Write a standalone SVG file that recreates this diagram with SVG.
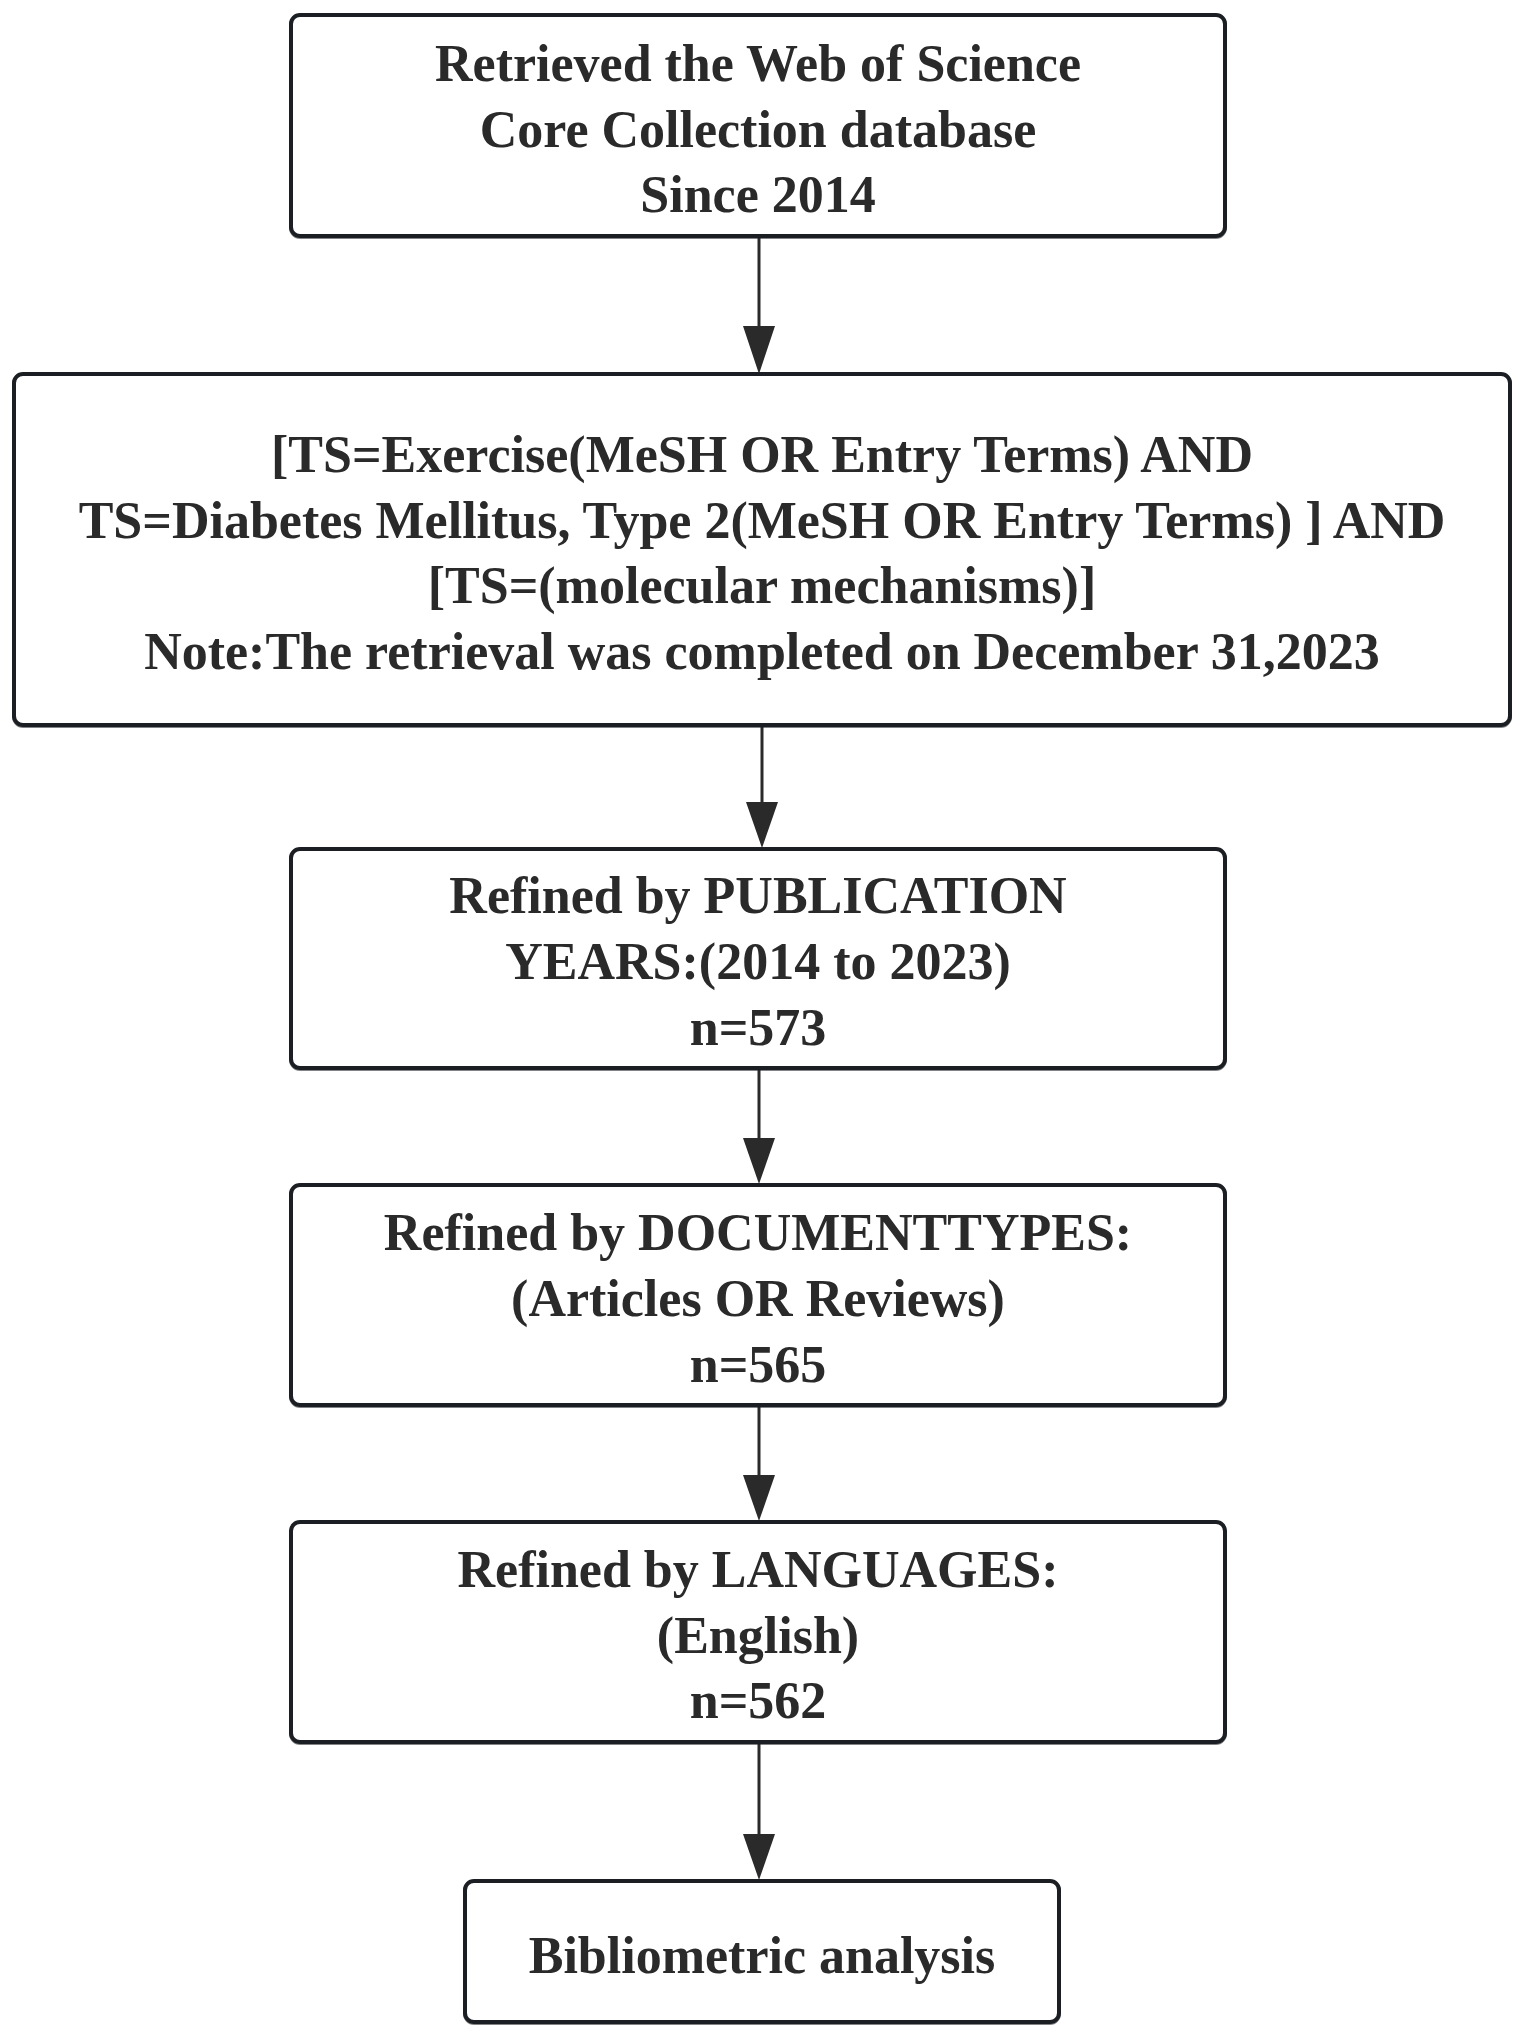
<svg xmlns="http://www.w3.org/2000/svg" width="1520" height="2040" viewBox="0 0 1520 2040">
<defs>
<style>
.box{fill:#ffffff;stroke:#1b1e22;stroke-width:4}
.sh{fill:none;stroke:#1b1e22;stroke-width:4;opacity:0.55}
.t{font-family:"Liberation Serif","Times New Roman",serif;font-weight:bold;font-size:52px;fill:#2a2a2a;text-anchor:middle}
.c{stroke:#2a2a2a;stroke-width:3;fill:none}
.ah{fill:#2a2a2a}
</style>
</defs>
<rect width="1520" height="2040" fill="#ffffff"/>
<g id="connectors">
<line class="c" x1="759" y1="238" x2="759" y2="326"/><path class="ah" d="M743,326 L775,326 L759,374 Z"/>
<line class="c" x1="762" y1="727" x2="762" y2="802"/><path class="ah" d="M746,802 L778,802 L762,848 Z"/>
<line class="c" x1="759" y1="1070" x2="759" y2="1138"/><path class="ah" d="M743,1138 L775,1138 L759,1184 Z"/>
<line class="c" x1="759" y1="1407" x2="759" y2="1475"/><path class="ah" d="M743,1475 L775,1475 L759,1521 Z"/>
<line class="c" x1="759" y1="1744" x2="759" y2="1834"/><path class="ah" d="M743,1834 L775,1834 L759,1880 Z"/>
</g>
<g id="n1">
<rect class="sh" x="291" y="16" width="934" height="221" rx="9"/>
<rect class="box" x="291" y="15" width="934" height="221" rx="9"/>
<text class="t" x="758" y="81">Retrieved the Web of Science</text>
<text class="t" x="758" y="147">Core Collection database</text>
<text class="t" x="758" y="212">Since 2014</text>
</g>
<g id="n2">
<rect class="sh" x="14" y="375" width="1496" height="351" rx="9"/>
<rect class="box" x="14" y="374" width="1496" height="351" rx="9"/>
<text class="t" x="762" y="472">[TS=Exercise(MeSH OR Entry Terms) AND</text>
<text class="t" x="762" y="538">TS=Diabetes Mellitus, Type 2(MeSH OR Entry Terms) ] AND</text>
<text class="t" x="762" y="603">[TS=(molecular mechanisms)]</text>
<text class="t" x="762" y="669">Note:The retrieval was completed on December 31,2023</text>
</g>
<g id="n3">
<rect class="sh" x="291" y="850" width="934" height="219" rx="9"/>
<rect class="box" x="291" y="849" width="934" height="219" rx="9"/>
<text class="t" x="758" y="913">Refined by PUBLICATION</text>
<text class="t" x="758" y="979">YEARS:(2014 to 2023)</text>
<text class="t" x="758" y="1045">n=573</text>
</g>
<g id="n4">
<rect class="sh" x="291" y="1186" width="934" height="220" rx="9"/>
<rect class="box" x="291" y="1185" width="934" height="220" rx="9"/>
<text class="t" x="758" y="1250">Refined by DOCUMENTTYPES:</text>
<text class="t" x="758" y="1316">(Articles OR Reviews)</text>
<text class="t" x="758" y="1382">n=565</text>
</g>
<g id="n5">
<rect class="sh" x="291" y="1523" width="934" height="220" rx="9"/>
<rect class="box" x="291" y="1522" width="934" height="220" rx="9"/>
<text class="t" x="758" y="1587">Refined by LANGUAGES:</text>
<text class="t" x="758" y="1653">(English)</text>
<text class="t" x="758" y="1718">n=562</text>
</g>
<g id="n6">
<rect class="sh" x="465" y="1882" width="594" height="141" rx="9"/>
<rect class="box" x="465" y="1881" width="594" height="141" rx="9"/>
<text class="t" x="762" y="1973">Bibliometric analysis</text>
</g>
</svg>
